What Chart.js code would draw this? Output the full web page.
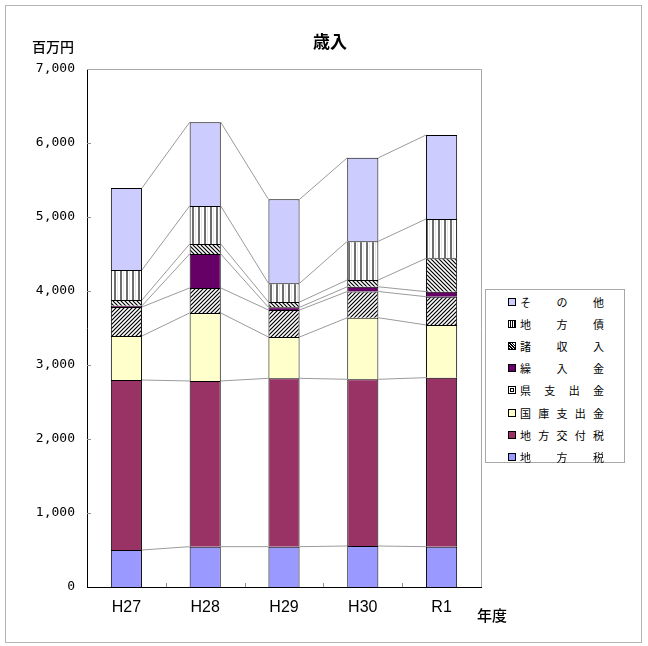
<!DOCTYPE html>
<html lang="ja">
<head>
<meta charset="utf-8">
<script src="https://cdn.jsdelivr.net/npm/chart.js@4.4.0/dist/chart.umd.min.js"></script>
<style>
  body { margin: 0; background: #fff; }
  #wrap { position: relative; width: 648px; height: 646px; font-family: "Noto Sans CJK JP", sans-serif; color: #000; }
  #frame { position: absolute; left: 5px; top: 5px; width: 635px; height: 636px; border: 1px solid #b4b4b4; }
  #myChart { position: absolute; left: 0; top: 0; }
  .lbl { position: absolute; white-space: nowrap; line-height: 1; }
  #title { left: 313px; top: 32px; font-size: 17px; font-weight: bold; }
  #unit { left: 32px; top: 39px; font-size: 14px; font-weight: 500; }
  #xname { left: 477px; top: 607px; font-size: 15px; font-weight: 500; }
  #legend { position: absolute; left: 485px; top: 289px; width: 140px; height: 174px; border: 1px solid #a8a8a8; background: #fff; box-sizing: border-box; }
  .row { position: absolute; left: 0; height: 14px; display: flex; align-items: center; }
  .mark { position: absolute; left: 22px; top: 3px; width: 6px; height: 6px; border: 1px solid #000; }
  .txt { position: absolute; left: 34px; width: 84px; display: flex; justify-content: space-between; font-size: 11px; line-height: 14px; top: 0; }
</style>
</head>
<body>
<div id="wrap">
  <div id="frame"></div>
  <canvas id="myChart" width="648" height="646"></canvas>
  <div class="lbl" id="title">歳入</div>
  <div class="lbl" id="unit">百万円</div>
  <div class="lbl" id="xname">年度</div>
  <div id="legend"></div>
</div>
<script>
// 年度
const years = ['H27', 'H28', 'H29', 'H30', 'R1'];

// 百万円 (bottom of the stack first)
const chihouzei = [500, 545, 545, 554, 545];
const koufuzei = [2297, 2239, 2275, 2253, 2284];
const kokkoShishutsu = [595, 919, 558, 832, 712];
const kenShishutsu = [392, 338, 365, 354, 382];
const kurireKin = [16, 459, 37, 64, 68];
const shoShuunyuu = [78, 135, 71, 92, 450];
const chihouSai = [406, 514, 253, 523, 532];
const sonota = [1108, 1131, 1135, 1128, 1135];

const seriesNames = ['地方税', '地方交付税', '国庫支出金', '県支出金', '繰入金', '諸収入', '地方債', 'その他'];
const yTicks = [0, 1000, 2000, 3000, 4000, 5000, 6000, 7000];

function makePattern(draw, w, h) {
    const c = document.createElement('canvas');
    c.width = w;
    c.height = h;
    const g = c.getContext('2d');
    g.fillStyle = '#fff';
    g.fillRect(0, 0, w, h);
    draw(g);
    return c.getContext('2d').createPattern(c, 'repeat');
}

// 県支出金: ////
const slashPattern = makePattern(g => {
    g.strokeStyle = '#000';
    g.lineWidth = 1.2;
    g.beginPath();
    g.moveTo(-1, 5); g.lineTo(5, -1);
    g.moveTo(-1, 1); g.lineTo(1, -1);
    g.moveTo(3, 5); g.lineTo(5, 3);
    g.stroke();
}, 4, 4);

// 諸収入: \\\\
const backPattern = makePattern(g => {
    g.strokeStyle = '#000';
    g.lineWidth = 1.2;
    g.beginPath();
    g.moveTo(-1, -1); g.lineTo(5, 5);
    g.moveTo(3, -1); g.lineTo(5, 1);
    g.moveTo(-1, 3); g.lineTo(1, 5);
    g.stroke();
}, 4, 4);

// 地方債: vertical stripes
const stripePattern = makePattern(g => {
    g.fillStyle = '#6e6e6e';
    g.fillRect(0, 0, 2, 6);
    g.fillStyle = '#e6e6e6';
    g.fillRect(3, 0, 1, 6);
}, 6, 6);

const fills = ['#9999ff', '#993366', '#ffffcc', slashPattern, '#660066', backPattern, stripePattern, '#ccccff'];
const values = [chihouzei, koufuzei, kokkoShishutsu, kenShishutsu, kurireKin, shoShuunyuu, chihouSai, sonota];

const seriesLines = {
    id: 'seriesLines',
    beforeDatasetsDraw(chart) {
        const ctx = chart.ctx;
        const a = chart.chartArea;
        ctx.save();
        ctx.lineWidth = 1;
        ctx.strokeStyle = '#a8a8a8';
        ctx.beginPath();
        ctx.moveTo(a.left, a.top + 0.5);
        ctx.lineTo(a.right + 0.5, a.top + 0.5);
        ctx.lineTo(a.right + 0.5, a.bottom);
        ctx.stroke();

        // small inner tick marks
        ctx.strokeStyle = '#909090';
        ctx.beginPath();
        const ys = chart.scales.y;
        yTicks.slice(1, -1).forEach(v => {
            const py = Math.round(ys.getPixelForValue(v)) + 0.5;
            ctx.moveTo(a.left, py);
            ctx.lineTo(a.left + 4, py);
        });
        const xs = chart.scales.x;
        for (let i = 1; i < years.length; i++) {
            const px = Math.round((xs.getPixelForValue(i - 1) + xs.getPixelForValue(i)) / 2) + 0.5;
            ctx.moveTo(px, a.bottom);
            ctx.lineTo(px, a.bottom - 4);
        }
        ctx.stroke();

        // series lines between bars
        ctx.strokeStyle = '#9a9a9a';
        ctx.beginPath();
        chart.data.datasets.forEach((ds, i) => {
            const bars = chart.getDatasetMeta(i).data;
            for (let j = 0; j < bars.length - 1; j++) {
                const b0 = bars[j];
                const b1 = bars[j + 1];
                ctx.moveTo(b0.x + b0.width / 2, b0.y);
                ctx.lineTo(b1.x - b1.width / 2, b1.y);
            }
        });
        ctx.stroke();
        ctx.restore();
    }
};

const chart = new Chart(document.getElementById('myChart'), {
    type: 'bar',
    data: {
        labels: years,
        datasets: seriesNames.map((name, i) => ({
            label: name,
            data: values[i],
            backgroundColor: fills[i],
            borderColor: '#000',
            borderWidth: 1,
            barPercentage: 0.395,
            categoryPercentage: 1
        }))
    },
    options: {
        responsive: false,
        animation: false,
        events: [],
        layout: { padding: { left: 0, right: 167, top: 69, bottom: 0 } },
        plugins: {
            legend: { display: false },
            title: { display: false },
            tooltip: { enabled: false }
        },
        scales: {
            x: {
                stacked: true,
                grid: { display: false, drawTicks: false },
                border: { color: '#000', width: 1 },
                ticks: {
                    color: '#000',
                    padding: 11,
                    font: { family: 'Liberation Sans', size: 16 }
                },
                afterFit(scale) { scale.height = 59; }
            },
            y: {
                stacked: true,
                min: 0,
                max: 7000,
                grid: { display: false, drawTicks: false },
                border: { color: '#000', width: 1 },
                afterBuildTicks(scale) { scale.ticks = yTicks.map(v => ({ value: v })); },
                ticks: {
                    color: '#000',
                    padding: 12,
                    font: { family: 'DejaVu Sans Mono', size: 13 },
                    callback: v => v.toLocaleString('en-US')
                },
                afterFit(scale) { scale.width = 87; }
            }
        }
    },
    plugins: [seriesLines]
});

// legend, top entry is the top of the stack
const legendMarks = {
    'その他': 'background:#ccccff',
    '地方債': 'background:repeating-linear-gradient(90deg,#fff 0 1px,#000 1px 2px)',
    '諸収入': 'background:repeating-linear-gradient(45deg,#000 0 1px,#fff 1px 2px)',
    '繰入金': 'background:#660066',
    '県支出金': 'background:#fff;box-shadow:inset 0 0 0 1px #fff,inset 0 0 0 2px #000',
    '国庫支出金': 'background:#ffffcc',
    '地方交付税': 'background:#993366',
    '地方税': 'background:#9999ff'
};
const legend = document.getElementById('legend');
seriesNames.slice().reverse().forEach((name, i) => {
    const row = document.createElement('div');
    row.className = 'row';
    row.style.top = (5 + i * 22.1) + 'px';
    row.style.width = '138px';
    const mark = document.createElement('span');
    mark.className = 'mark';
    mark.style.cssText = legendMarks[name];
    const txt = document.createElement('span');
    txt.className = 'txt';
    for (const ch of name) {
        const s = document.createElement('span');
        s.textContent = ch;
        txt.appendChild(s);
    }
    row.appendChild(mark);
    row.appendChild(txt);
    legend.appendChild(row);
});
</script>
</body>
</html>
